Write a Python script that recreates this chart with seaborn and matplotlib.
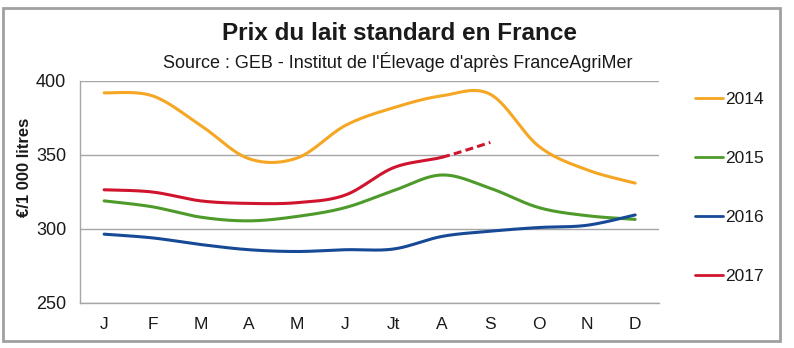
import numpy as np
import pandas as pd
import matplotlib
matplotlib.use("Agg")
import matplotlib.pyplot as plt
from matplotlib.lines import Line2D
from matplotlib.patches import Rectangle
from matplotlib.font_manager import FontProperties
import seaborn as sns

# ---- data ----
months = ["J", "F", "M", "A", "M", "J", "Jt", "A", "S", "O", "N", "D"]
years = ["2014", "2015", "2016", "2017"]
v2014 = [392, 390, 370, 347.5, 348, 370, 382, 390, 391, 356, 340, 331]
v2015 = [319, 315, 308, 305.5, 308.5, 314.5, 326, 336.5, 327.5, 314.5, 309, 306.5]
v2016 = [296.5, 294, 289.5, 286, 284.8, 286, 286.5, 295, 298.5, 301, 302.5, 309.5]
v2017 = [326.5, 325, 319, 317.3, 317.8, 323, 341.5, 348.5, 358.5]  # Sept = estimate (dashed)
colors = ["#F5A623", "#4E9A2A", "#174A96", "#D0142D"]

sns.set_style("white")
plt.rcParams["font.family"] = ["Liberation Sans", "DejaVu Sans"]


def smooth_segments(xs, ys, n=40):
    """Excel-like smoothed line: cubic Bezier segments through the data points."""
    P = np.column_stack([xs, ys]).astype(float)
    E = np.vstack([P[0], P, P[-1]])
    segs = []
    for i in range(len(P) - 1):
        p0, p1, p2, p3 = E[i], E[i + 1], E[i + 2], E[i + 3]
        c1 = p1 + (p2 - p0) / 6.0
        c2 = p2 - (p3 - p1) / 6.0
        t = np.linspace(0, 1, n)[:, None]
        B = (1 - t) ** 3 * p1 + 3 * (1 - t) ** 2 * t * c1 + 3 * (1 - t) * t ** 2 * c2 + t ** 3 * p2
        segs.append(B)
    return segs


fig = plt.figure(figsize=(7.94, 3.48), dpi=100)
ax = fig.add_axes([80 / 794, 1 - 303 / 348, (659.3 - 80) / 794, (303 - 81) / 348])

series = [v2014, v2015, v2016, v2017]
lw = 2.2
for name, vals, col in zip(years, series, colors):
    x = np.arange(len(vals))
    segs = smooth_segments(x, vals)
    if name == "2017":
        solid = np.vstack(segs[:-1])
        dashed = segs[-1]
        df = pd.DataFrame({"x": solid[:, 0], "y": solid[:, 1]})
        sns.lineplot(data=df, x="x", y="y", sort=False, estimator=None, color=col, lw=lw, ax=ax)
        df2 = pd.DataFrame({"x": dashed[:, 0], "y": dashed[:, 1]})
        sns.lineplot(data=df2, x="x", y="y", sort=False, estimator=None, color=col, lw=lw, ax=ax)
        ax.lines[-1].set_dashes([2.6, 1.4])
    else:
        pts = np.vstack(segs)
        df = pd.DataFrame({"x": pts[:, 0], "y": pts[:, 1]})
        sns.lineplot(data=df, x="x", y="y", sort=False, estimator=None, color=col, lw=lw, ax=ax)

grey = "#a6a6a6"
ax.set_xlim(-0.5, 11.5)
ax.set_ylim(250, 400)
ax.set_yticks([250, 300, 350, 400])
ax.set_xticks(range(12))
ax.set_xticklabels(months)
ax.set_xticks(np.arange(-0.5, 12, 1), minor=True)
ax.tick_params(axis="x", which="major", length=0, pad=10, labelsize=12.5, labelcolor="#1a1a1a")
ax.tick_params(axis="x", which="minor", length=4.5, width=1, color=grey, direction="out")
ax.tick_params(axis="y", which="major", length=5, width=1, color=grey, pad=5,
               labelsize=13, labelcolor="#1a1a1a", direction="out")
ax.yaxis.grid(True, color=grey, lw=1)
ax.xaxis.grid(False)
ax.set_axisbelow(True)
for s in ["top", "right"]:
    ax.spines[s].set_visible(False)
for s in ["left", "bottom"]:
    ax.spines[s].set_color(grey)
    ax.spines[s].set_linewidth(1)
ax.set_xlabel("")
ax.set_ylabel("")

fig.text(25 / 794, 1 - 167 / 348, "€/1 000 litres", rotation=90, ha="center", va="center",
         fontsize=12, fontweight="bold", color="#1a1a1a")
fig.text(400 / 794, 1 - 40 / 348, "Prix du lait standard en France", ha="center", va="baseline",
         fontsize=17.5, fontweight="bold", color="#1a1a1a")
fig.text(398 / 794, 1 - 68.5 / 348, "Source : GEB - Institut de l'Élevage d'après FranceAgriMer",
         ha="center", va="baseline", fontsize=13, color="#1a1a1a")

handles = [Line2D([0], [0], color=c, lw=2) for c in colors]
fig.legend(handles, years, loc="upper left", bbox_to_anchor=(695 / 794, 1 - 92 / 348),
           bbox_transform=fig.transFigure, frameon=False, handlelength=1.6,
           handletextpad=0.12, labelspacing=2.52, borderaxespad=0, borderpad=0,
           prop=FontProperties(family=["Liberation Sans Narrow", "Liberation Sans"], size=12.5),
           labelcolor="#1a1a1a")

fig.patches.append(Rectangle((3 / 794, 1 - 341 / 348), (780 - 3) / 794, (341 - 8) / 348,
                             transform=fig.transFigure, fill=False, ec="#a0a0a0", lw=2))

fig.savefig("out.png", dpi=100)
